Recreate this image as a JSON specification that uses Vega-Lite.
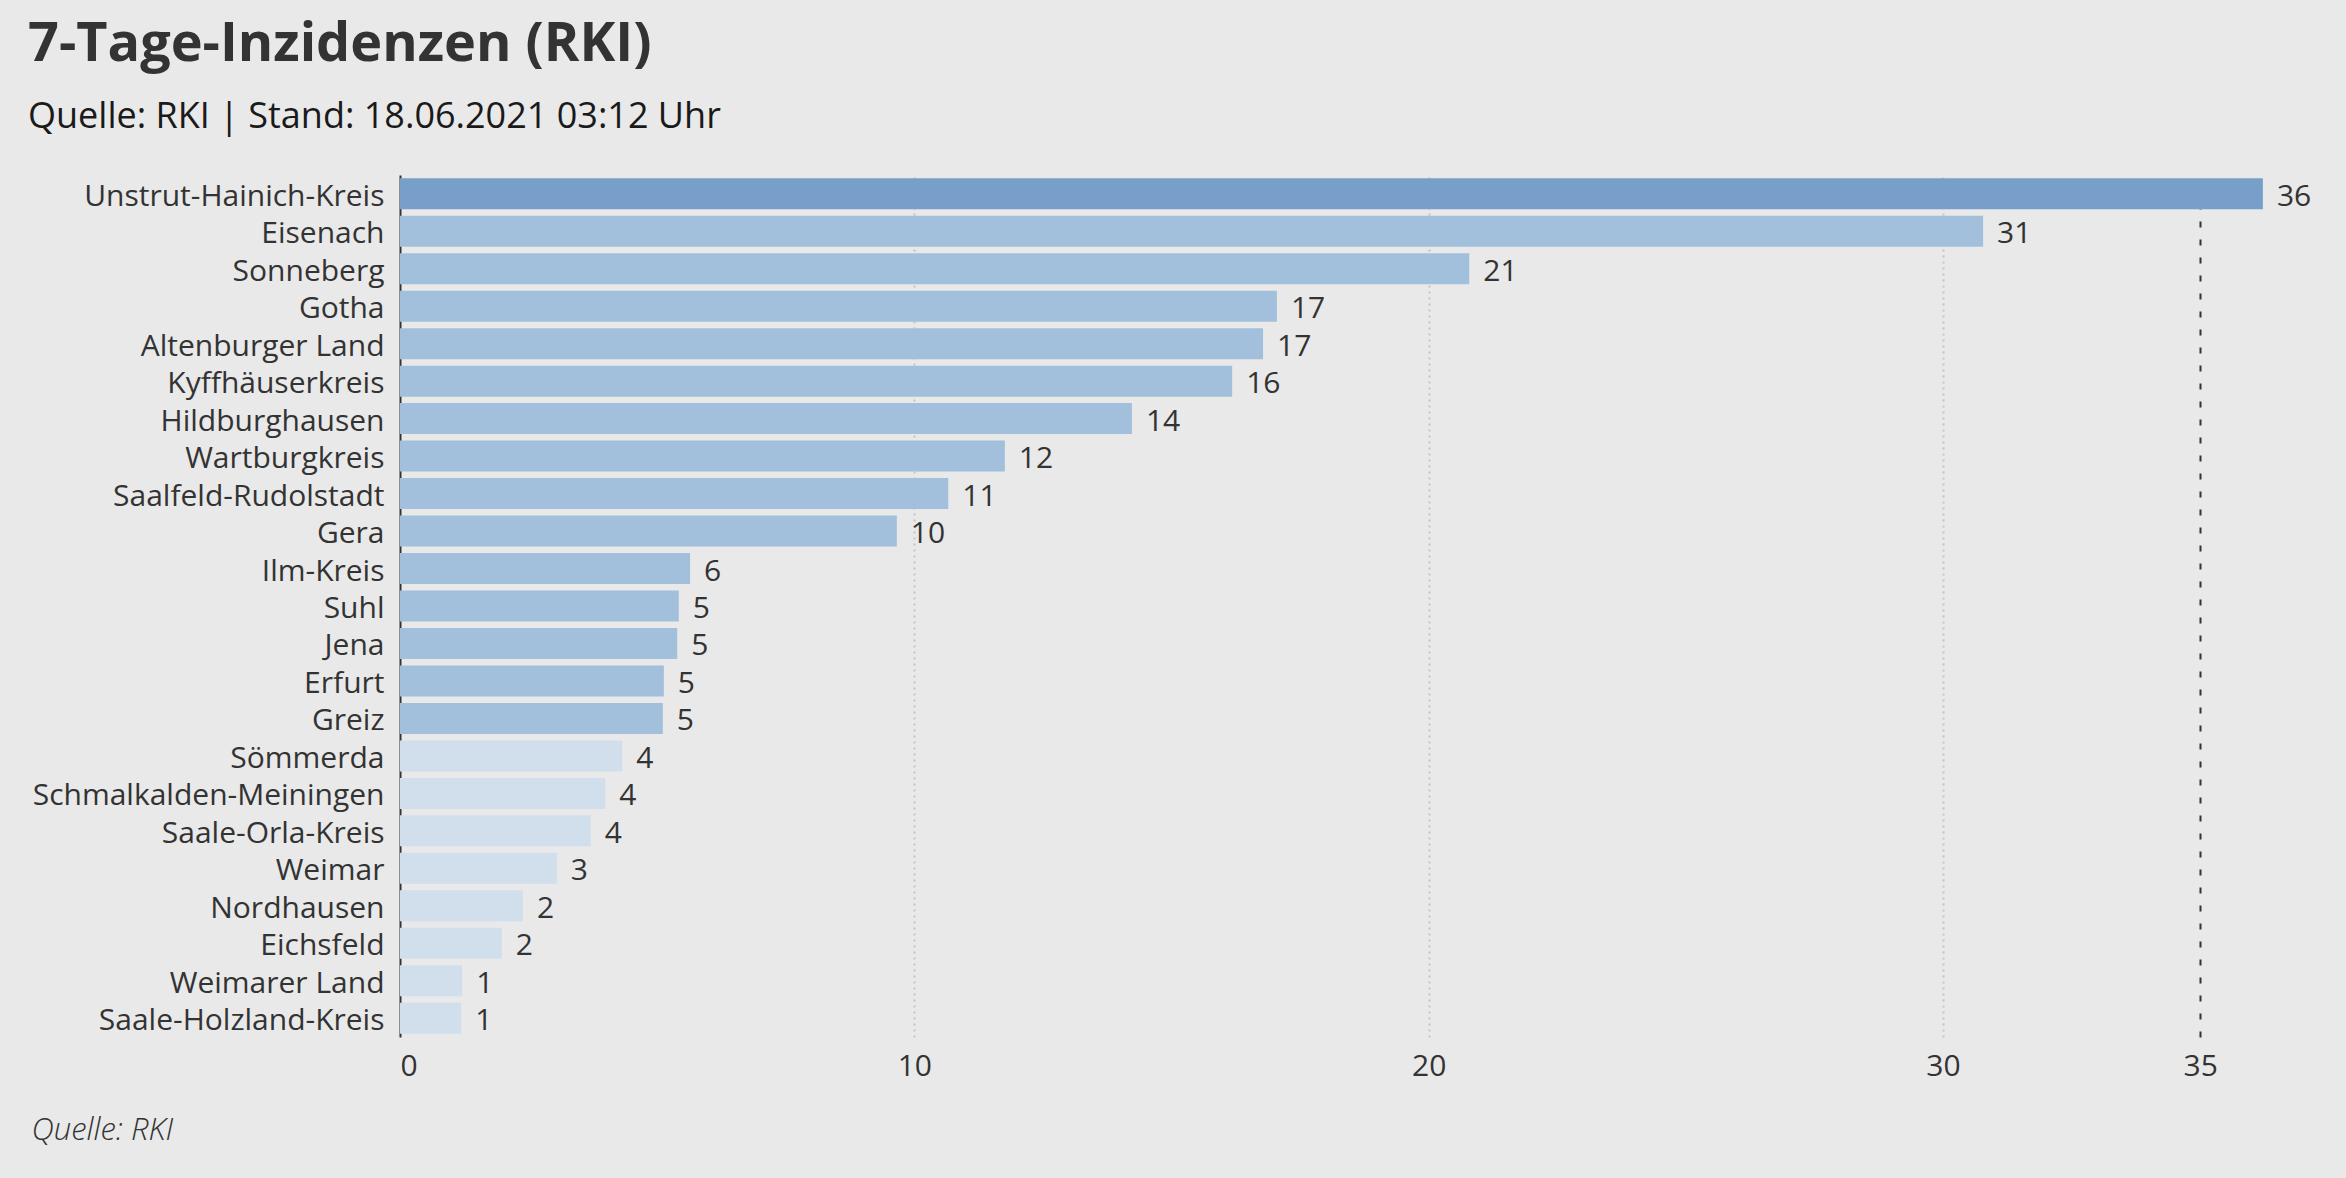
{
  "$schema": "https://vega.github.io/schema/vega-lite/v6.json",
  "width": 1903,
  "height": 862,
  "autosize": {"type": "none"},
  "padding": {"left": 400, "top": 175, "right": 43, "bottom": 141},
  "background": "#e9e9e9",
  "title": {
    "text": "7-Tage-Inzidenzen (RKI)",
    "subtitle": "Quelle: RKI | Stand: 18.06.2021 03:12 Uhr",
    "anchor": "start",
    "frame": "group",
    "dx": -372,
    "offset": 40,
    "font": "Open Sans",
    "fontSize": 54,
    "fontWeight": "bold",
    "color": "#333333",
    "subtitleFont": "Open Sans",
    "subtitleFontSize": 36,
    "subtitleColor": "#1a1a1a",
    "subtitlePadding": 28
  },
  "data": {
    "values": [
      {"kreis": "Unstrut-Hainich-Kreis", "inzidenz": 36.22},
      {"kreis": "Eisenach", "inzidenz": 30.78},
      {"kreis": "Sonneberg", "inzidenz": 20.79},
      {"kreis": "Gotha", "inzidenz": 17.05},
      {"kreis": "Altenburger Land", "inzidenz": 16.78},
      {"kreis": "Kyffhäuserkreis", "inzidenz": 16.18},
      {"kreis": "Hildburghausen", "inzidenz": 14.23},
      {"kreis": "Wartburgkreis", "inzidenz": 11.76},
      {"kreis": "Saalfeld-Rudolstadt", "inzidenz": 10.66},
      {"kreis": "Gera", "inzidenz": 9.66},
      {"kreis": "Ilm-Kreis", "inzidenz": 5.64},
      {"kreis": "Suhl", "inzidenz": 5.42},
      {"kreis": "Jena", "inzidenz": 5.39},
      {"kreis": "Erfurt", "inzidenz": 5.13},
      {"kreis": "Greiz", "inzidenz": 5.11},
      {"kreis": "Sömmerda", "inzidenz": 4.32},
      {"kreis": "Schmalkalden-Meiningen", "inzidenz": 3.99},
      {"kreis": "Saale-Orla-Kreis", "inzidenz": 3.71},
      {"kreis": "Weimar", "inzidenz": 3.05},
      {"kreis": "Nordhausen", "inzidenz": 2.39},
      {"kreis": "Eichsfeld", "inzidenz": 1.98},
      {"kreis": "Weimarer Land", "inzidenz": 1.21},
      {"kreis": "Saale-Holzland-Kreis", "inzidenz": 1.19}
    ]
  },
  "encoding": {
    "y": {
      "field": "kreis",
      "type": "nominal",
      "sort": null,
      "scale": {"paddingInner": 0.173, "paddingOuter": 0.087},
      "axis": {
        "title": null,
        "domain": true,
        "domainColor": "#333333",
        "domainWidth": 2,
        "ticks": false,
        "tickSize": 0,
        "labelFont": "Open Sans",
        "labelFontSize": 30,
        "labelColor": "#333333",
        "labelPadding": 16,
        "labelOffset": 3,
        "labelLimit": 1000
      }
    },
    "x": {
      "field": "inzidenz",
      "type": "quantitative",
      "scale": {"domain": [0, 37], "nice": false},
      "axis": {
        "values": [0, 10, 20, 30, 35],
        "domain": false,
        "ticks": false,
        "tickSize": 0,
        "grid": true,
        "gridWidth": 2,
        "gridColor": {"condition": {"test": "datum.value === 35", "value": "#333333"}, "value": "#c4c4c4"},
        "gridDash": {"condition": {"test": "datum.value === 35", "value": [6, 12]}, "value": [2, 4]},
        "gridOpacity": {"condition": {"test": "datum.value === 0", "value": 0}, "value": 1},
        "labelFont": "Open Sans",
        "labelFontSize": 30,
        "labelColor": "#333333",
        "labelPadding": 14,
        "title": "Quelle: RKI",
        "titleFont": "Open Sans",
        "titleFontSize": 31,
        "titleFontStyle": "italic",
        "titleFontWeight": 300,
        "titleColor": "#333333",
        "titleAlign": "left",
        "titleBaseline": "alphabetic",
        "titleX": -369,
        "titleY": 102
      }
    }
  },
  "layer": [
    {
      "mark": {"type": "bar"},
      "encoding": {
        "color": {
          "field": "inzidenz",
          "type": "quantitative",
          "scale": {"type": "threshold", "domain": [5, 35], "range": ["#d1dfec", "#a2bfdb", "#789fca"]},
          "legend": null
        }
      }
    },
    {
      "mark": {"type": "text", "align": "left", "baseline": "middle", "dx": 14, "dy": 3, "font": "Open Sans", "fontSize": 30, "color": "#333333"},
      "encoding": {
        "text": {"field": "inzidenz", "type": "quantitative", "format": ".0f"}
      }
    }
  ],
  "config": {
    "view": {"stroke": null}
  }
}
